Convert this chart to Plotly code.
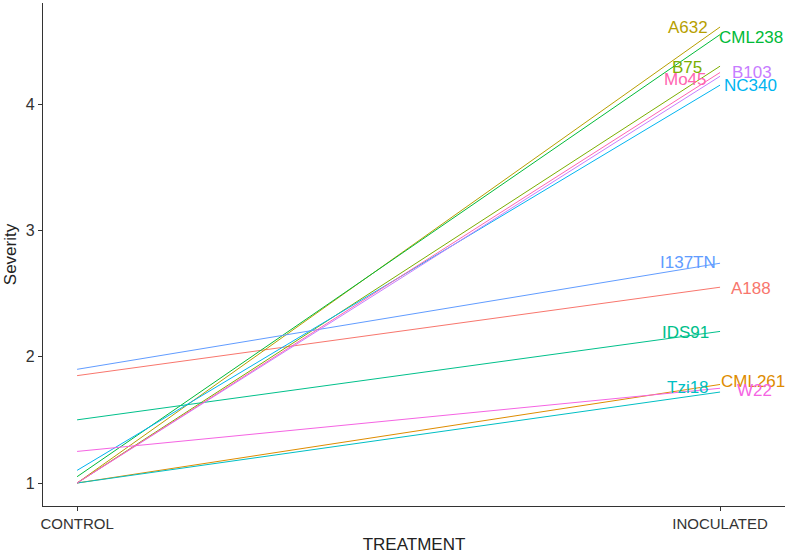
import plotly.graph_objects as go

treatments = ["CONTROL", "INOCULATED"]
genotypes = ["A188", "CML261", "A632", "B75", "CML238", "IDS91", "Tzi18", "NC340", "I137TN", "B103", "W22", "Mo45"]
control = [1.85, 1.00, 1.00, 1.00, 1.05, 1.50, 1.00, 1.10, 1.90, 1.00, 1.25, 1.00]
inoculated = [2.55, 1.78, 4.61, 4.30, 4.55, 2.20, 1.72, 4.15, 2.74, 4.22, 1.75, 4.25]
colors = ["#F8766D", "#DE8C00", "#B79F00", "#7CAE00", "#00BA38", "#00C08B",
          "#00BFC4", "#00B4F0", "#619CFF", "#C77CFF", "#F564E3", "#FF64B0"]
# label placement (repelled text positions, data coords)
label_x = [2.048, 2.051, 1.950, 1.949, 2.048, 1.947, 1.950, 2.048, 1.950, 2.050, 2.054, 1.947]
label_y = [2.536, 1.800, 4.603, 4.286, 4.523, 2.188, 1.760, 4.143, 2.742, 4.246, 1.736, 4.191]

xpos = [1, 2]
fig = go.Figure()
for g, c, i, col in zip(genotypes, control, inoculated, colors):
    fig.add_trace(go.Scatter(x=xpos, y=[c, i], mode="lines", name=g,
                             line=dict(color=col, width=1.0), showlegend=False,
                             hoverinfo="skip"))

annotations = []
for g, lx, ly, col in zip(genotypes, label_x, label_y, colors):
    annotations.append(dict(x=lx, y=ly, xref="x", yref="y", text=g, showarrow=False,
                            font=dict(family="Liberation Sans, Arial", size=17, color=col),
                            xanchor="center", yanchor="middle"))

fig.update_layout(
    width=789, height=557,
    margin=dict(l=43, r=4, t=3, b=51),
    paper_bgcolor="white", plot_bgcolor="white",
    font=dict(family="Liberation Sans, Arial", color="#333333"),
    annotations=annotations,
    xaxis=dict(range=[0.947, 2.101], tickvals=xpos, ticktext=treatments, automargin=False,
               showgrid=False, zeroline=False, showline=True, linecolor="#333333",
               linewidth=1.3, ticks="outside", ticklen=4, tickcolor="#333333",
               tickfont=dict(size=15, color="#333333"),
               title=dict(text="TREATMENT", font=dict(size=17, color="#222222"), standoff=6)),
    yaxis=dict(range=[0.818, 4.80], tickvals=[1, 2, 3, 4], automargin=False,
               showgrid=False, zeroline=False, showline=True, linecolor="#333333",
               linewidth=1.3, ticks="outside", ticklen=4, tickcolor="#333333",
               tickfont=dict(size=16, color="#333333"),
               title=dict(text="Severity", font=dict(size=17, color="#222222"), standoff=4)),
)

fig.write_html("out.html", config={"displayModeBar": False},
               post_script="document.body.style.margin='0px';")
